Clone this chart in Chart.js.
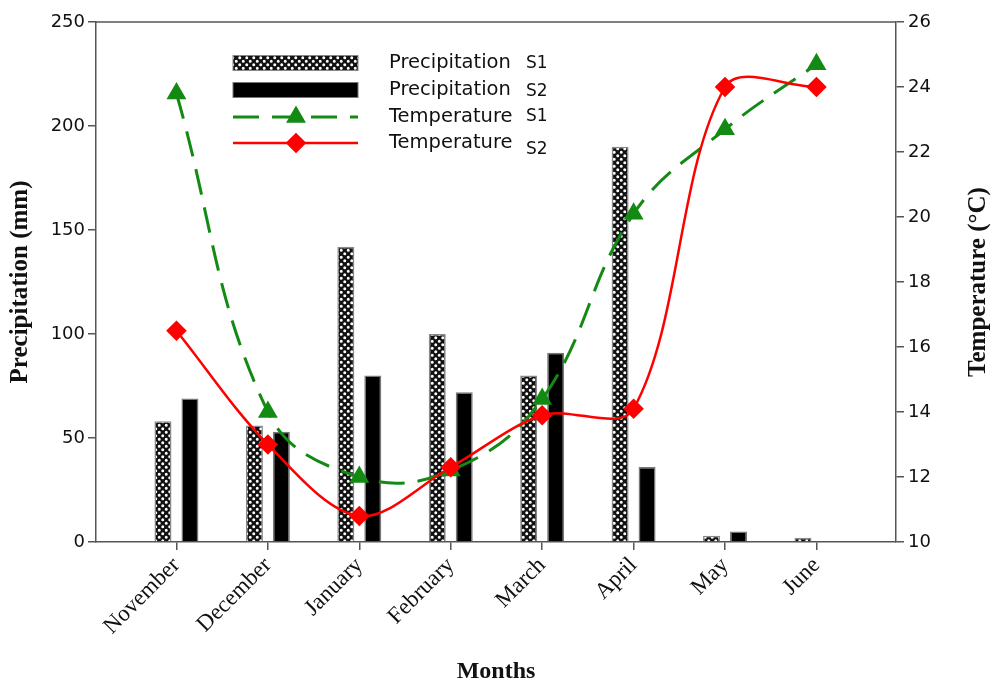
<!DOCTYPE html>
<html>
<head>
<meta charset="utf-8">
<script src="https://cdn.jsdelivr.net/npm/chart.js@4/dist/chart.umd.min.js"></script>
<style>
  body { margin: 0; background: #fff; }
</style>
</head>
<body>
<canvas id="chart" width="996" height="686"></canvas>
<script>
// months on the x axis
const months = ['November', 'December', 'January', 'February', 'March', 'April', 'May', 'June'];
// precipitation (mm), left axis
const precipS1 = [58, 56, 142, 100, 80, 190, 3, 2];
const precipS2 = [69, 53, 80, 72, 91, 36, 5, 0];
// temperature (°C), right axis
const tempS1 = [23.8, 14.0, 12.0, 12.2, 14.4, 20.1, 22.7, 24.7];
const tempS2 = [16.5, 13.0, 10.8, 12.3, 13.9, 14.1, 24.0, 24.0];
// legend text
const seriesNames = ['Precipitation', 'Precipitation', 'Temperature', 'Temperature'];
const seriesTags = ['S1', 'S2', 'S1', 'S2'];

const GREEN = '#138a13';
const RED = '#ff0000';
const AXIS = '#555';

/**
 * white dots on black, like the stippled S1 bars
 */
function makeDots () {
  const c = document.createElement('canvas');
  c.width = 7;
  c.height = 7;
  const g = c.getContext('2d');
  g.fillStyle = '#111';
  g.fillRect(0, 0, 7, 7);
  g.fillStyle = '#fff';
  g.beginPath();
  g.arc(1.75, 1.75, 1.5, 0, Math.PI * 2);
  g.arc(5.25, 5.25, 1.5, 0, Math.PI * 2);
  g.fill();
  return g.createPattern(c, 'repeat');
}
const dots = makeDots();

const toXY = (arr) => arr.map((v, i) => ({ x: i, y: v }));

// draws the legend box inside the plot, the top frame line and the right axis title
const extras = {
  id: 'extras',
  afterDraw (chart) {
    const ctx = chart.ctx;
    const area = chart.chartArea;
    ctx.save();
    ctx.strokeStyle = AXIS;
    ctx.lineWidth = 1.5;
    ctx.beginPath();
    ctx.moveTo(area.left, area.top);
    ctx.lineTo(area.right, area.top);
    ctx.stroke();

    const rows = [63, 90, 117, 143];
    const tagShift = [1, 2, 0, 7];
    const x0 = 233;
    const x1 = 358;
    const mid = 296;
    chart.data.datasets.forEach((ds, i) => {
      const y = rows[i];
      ctx.save();
      if (ds.type === 'bar') {
        ctx.fillStyle = ds.backgroundColor;
        ctx.fillRect(x0, y - 7.5, x1 - x0, 15);
        ctx.strokeStyle = ds.borderColor;
        ctx.lineWidth = 1;
        ctx.strokeRect(x0, y - 7.5, x1 - x0, 15);
      } else {
        ctx.strokeStyle = ds.borderColor;
        ctx.lineWidth = ds.borderWidth;
        ctx.setLineDash(ds.borderDash || []);
        ctx.beginPath();
        ctx.moveTo(x0, y);
        ctx.lineTo(x1, y);
        ctx.stroke();
        ctx.setLineDash([]);
        ctx.fillStyle = ds.pointBackgroundColor;
        ctx.strokeStyle = ds.pointBorderColor;
        Chart.helpers.drawPoint(ctx, {
          pointStyle: ds.pointStyle,
          radius: ds.pointRadius,
          rotation: 0,
          borderWidth: 1
        }, mid, y);
      }
      ctx.restore();
      ctx.fillStyle = '#111';
      ctx.textBaseline = 'middle';
      ctx.textAlign = 'left';
      ctx.font = '19.5px "DejaVu Sans"';
      ctx.fillText(seriesNames[i], 389, y);
      ctx.font = '17px "DejaVu Sans"';
      ctx.fillText(seriesTags[i], 526, y + tagShift[i]);
    });

    ctx.translate(979, 282);
    ctx.rotate(-Math.PI / 2);
    ctx.textAlign = 'center';
    ctx.textBaseline = 'middle';
    ctx.font = 'bold 25px "Liberation Serif"';
    ctx.fillStyle = '#111';
    ctx.fillText('Temperature (°C)', 0, 0);
    ctx.restore();
  }
};

const tickGrid = { display: true, drawOnChartArea: false, offset: false, tickLength: 8, color: AXIS, lineWidth: 1.5 };
const axisBorder = { color: AXIS, width: 1.5 };

const config = {
  data: {
    datasets: [
      {
        type: 'bar',
        label: 'Precipitation S1',
        data: toXY(precipS1),
        yAxisID: 'y',
        backgroundColor: dots,
        borderColor: '#888',
        borderWidth: 1.5,
        categoryPercentage: 0.59,
        barPercentage: 0.63,
        order: 2
      },
      {
        type: 'bar',
        label: 'Precipitation S2',
        data: toXY(precipS2),
        yAxisID: 'y',
        backgroundColor: '#000',
        borderColor: '#777',
        borderWidth: 1.5,
        categoryPercentage: 0.59,
        barPercentage: 0.63,
        order: 2
      },
      {
        type: 'line',
        label: 'Temperature S1',
        data: toXY(tempS1),
        yAxisID: 'y1',
        borderColor: GREEN,
        borderWidth: 3,
        borderDash: [26, 13],
        tension: 0.4,
        pointStyle: 'triangle',
        pointRadius: 8.5,
        pointBackgroundColor: GREEN,
        pointBorderColor: GREEN,
        order: 1
      },
      {
        type: 'line',
        label: 'Temperature S2',
        data: toXY(tempS2),
        yAxisID: 'y1',
        borderColor: RED,
        borderWidth: 2.5,
        tension: 0.33,
        pointStyle: 'rectRot',
        pointRadius: 8.5,
        pointBackgroundColor: RED,
        pointBorderColor: RED,
        order: 0
      }
    ]
  },
  options: {
    responsive: false,
    animation: false,
    layout: { padding: { top: 22, left: 0, right: 0, bottom: 0 } },
    plugins: {
      legend: { display: false },
      tooltip: { enabled: false }
    },
    scales: {
      x: {
        type: 'linear',
        offset: false,
        min: -0.88,
        max: 7.87,
        afterBuildTicks: (scale) => {
          scale.ticks = months.map((m, i) => ({ value: i }));
        },
        afterFit: (scale) => { scale.height = 144; },
        ticks: {
          callback: (v) => months[v] || '',
          minRotation: 45,
          maxRotation: 45,
          padding: 2,
          color: '#111',
          font: { family: 'Liberation Serif', size: 23 }
        },
        grid: tickGrid,
        border: axisBorder,
        title: {
          display: true,
          text: 'Months',
          color: '#111',
          padding: 0,
          font: { family: 'Liberation Serif', size: 24, weight: 'bold' }
        }
      },
      y: {
        position: 'left',
        min: 0,
        max: 250,
        afterFit: (scale) => { scale.width = 96; },
        ticks: {
          stepSize: 50,
          padding: 3,
          color: '#111',
          font: { family: 'DejaVu Sans', size: 18 }
        },
        grid: tickGrid,
        border: axisBorder,
        title: {
          display: true,
          text: 'Precipitation (mm)',
          color: '#111',
          padding: { top: 6, bottom: 0 },
          font: { family: 'Liberation Serif', size: 25, weight: 'bold' }
        }
      },
      y1: {
        position: 'right',
        min: 10,
        max: 26,
        afterFit: (scale) => { scale.width = 100; },
        ticks: {
          stepSize: 2,
          padding: 4,
          color: '#111',
          font: { family: 'DejaVu Sans', size: 18 }
        },
        grid: tickGrid,
        border: axisBorder
      }
    }
  },
  plugins: [extras]
};

window.onload = function () {
  const myChart = new Chart(document.getElementById('chart'), config);
  return myChart;
};
</script>
</body>
</html>
